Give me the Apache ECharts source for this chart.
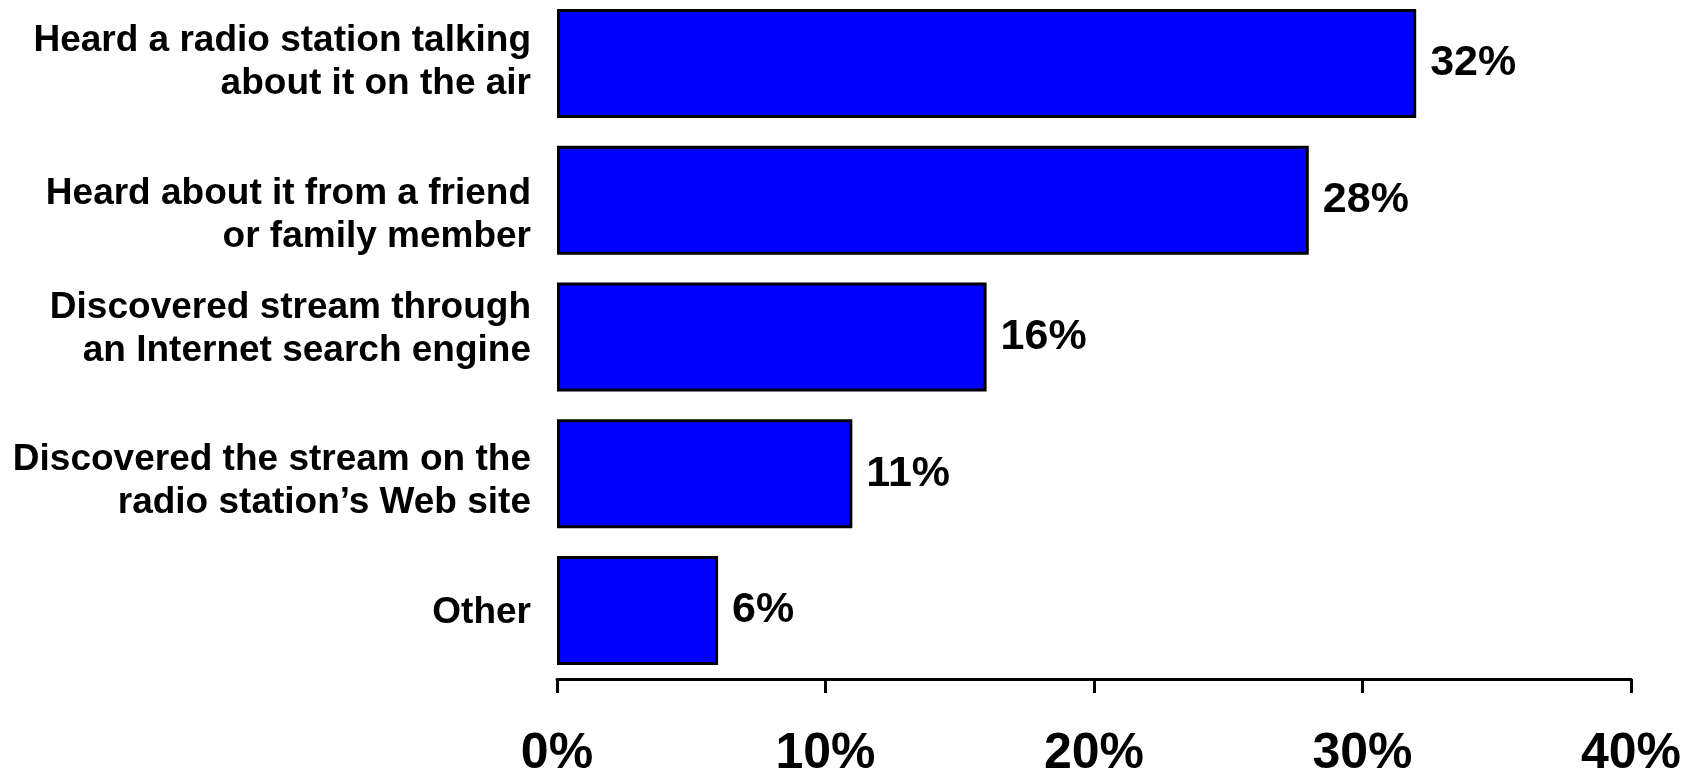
<!DOCTYPE html>
<html>
<head>
<meta charset="utf-8">
<script src="https://cdn.jsdelivr.net/npm/echarts@6/dist/echarts.min.js"></script>
<style>
  html, body { margin: 0; padding: 0; background: #fff; }
  #chart { width: 1693px; height: 771px; }
</style>
</head>
<body>
<div id="chart"></div>
<script>
// How listeners first found the stream (percent of respondents)
const categories = [
  'Heard a radio station talking\nabout it on the air',
  'Heard about it from a friend\nor family member',
  'Discovered stream through\nan Internet search engine',
  'Discovered the stream on the\nradio station\u2019s Web site',
  'Other'
];
const shares = [32, 28, 16, 11, 6];
const tickValues = [0, 10, 20, 30, 40];

const FONT = '"Liberation Sans", Arial, Helvetica, sans-serif';

// vertical nudge (px) of each category label from its bar's middle; negative = up
const labelNudge = [-1, 15, -8, 7, 2];

const catFont = { fontFamily: FONT, fontWeight: 'bold', fontSize: 37, lineHeight: 43, color: '#000' };

// one rich style per label; padding on every line moves the whole block by the nudge
const rich = {};
labelNudge.forEach((s, i) => {
  const pad = s > 0 ? [2 * s, 0, 0, 0] : (s < 0 ? [0, 0, -2 * s, 0] : [0, 0, 0, 0]);
  rich['c' + i] = Object.assign({ padding: pad }, catFont);
});

function categoryLabel(value, index) {
  return String(value).split('\n').map(line => '{c' + index + '|' + line + '}').join('\n');
}

const chart = echarts.init(document.getElementById('chart'), null, { renderer: 'canvas' });
chart.setOption({
  animation: false,
  backgroundColor: '#ffffff',
  grid: { left: 557, right: 62, top: -5, bottom: 92, outerBoundsMode: 'none', containLabel: false },
  xAxis: {
    type: 'value',
    min: tickValues[0],
    max: tickValues[tickValues.length - 1],
    interval: 10,
    splitLine: { show: false },
    axisLine: { show: true, lineStyle: { color: '#000', width: 3 } },
    axisTick: { show: true, length: 14, lineStyle: { color: '#000', width: 3 } },
    axisLabel: {
      margin: 50,
      fontFamily: FONT,
      fontWeight: 'bold',
      fontSize: 50,
      color: '#000',
      formatter: v => v + '%'
    }
  },
  yAxis: {
    type: 'category',
    inverse: true,
    data: categories,
    axisLine: { show: false },
    axisTick: { show: false },
    axisLabel: Object.assign({
      margin: 26,
      align: 'right',
      formatter: categoryLabel,
      rich: rich
    }, catFont)
  },
  series: [{
    type: 'bar',
    data: shares,
    barWidth: 109,
    itemStyle: { color: '#0000ff', borderColor: '#000', borderWidth: 3 },
    label: {
      show: true,
      position: 'right',
      distance: 14,
      fontFamily: FONT,
      fontWeight: 'bold',
      fontSize: 43,
      color: '#000',
      formatter: p => p.value + '%'
    }
  }]
});
</script>
</body>
</html>
